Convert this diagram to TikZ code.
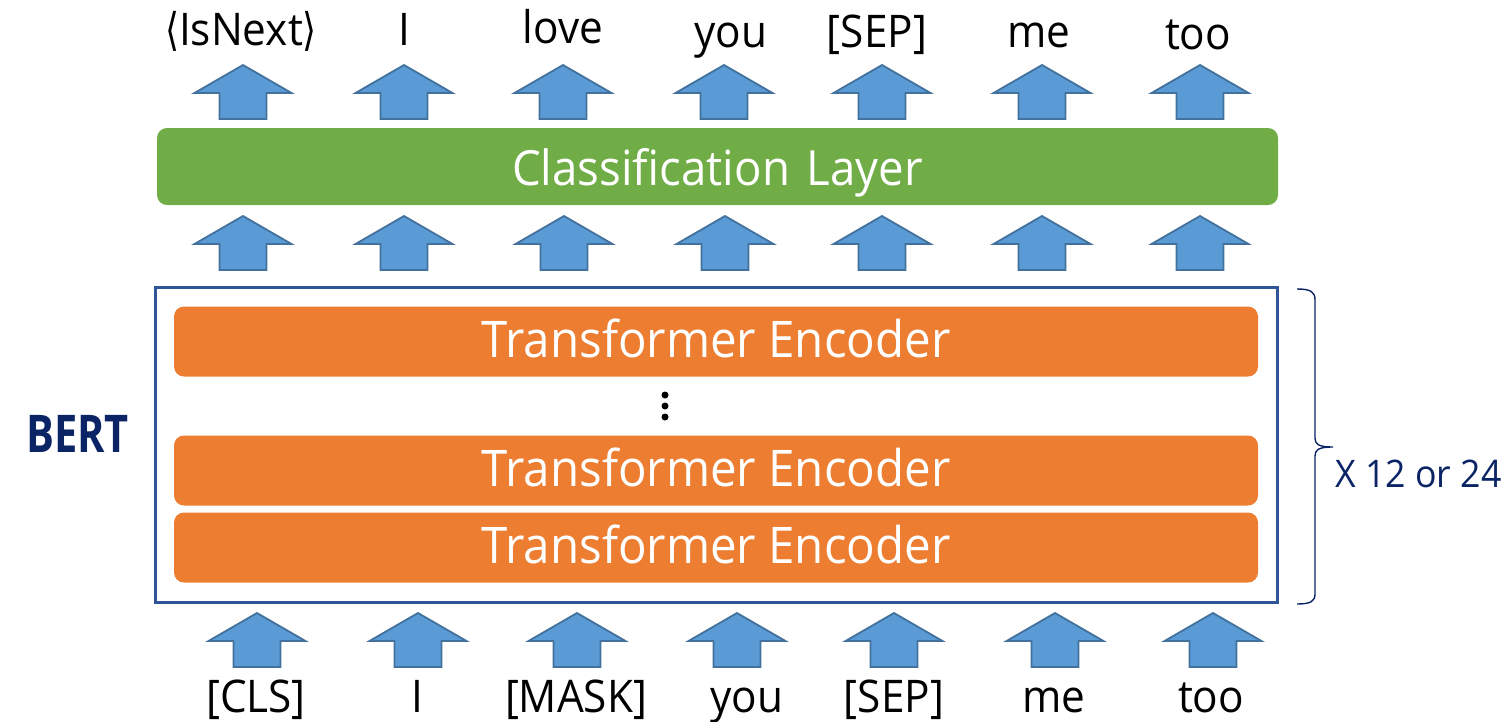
\documentclass[tikz,border=0pt]{standalone}
\usepackage{fontspec}
\usepackage{graphicx}
\setmainfont{Open Sans}[FakeStretch=0.94]
\newfontfamily\bracketfont{DejaVu Sans}[FakeStretch=0.8]
\definecolor{arrowfill}{HTML}{5B9BD5}
\definecolor{arrowline}{HTML}{41719C}
\definecolor{clsgreen}{HTML}{70AD47}
\definecolor{encorange}{HTML}{ED7D31}
\definecolor{frameblue}{HTML}{2F5597}
\definecolor{navy}{HTML}{0B2466}
\tikzset{
  blockarrow/.style={fill=arrowfill, draw=arrowline, line width=1.8pt, line join=miter},
  uparrow/.pic={\draw[blockarrow] (0,0) -- (48.5,28) -- (23.5,28) -- (23.5,54)
      -- (-23.5,54) -- (-23.5,28) -- (-48.5,28) -- cycle;},
  token/.style={anchor=base, inner sep=0pt, font=\fontsize{45}{54}\selectfont},
  encbox/.style={fill=encorange, rounded corners=10pt, inner sep=0pt,
      minimum width=1084pt, minimum height=70pt, text=white,
      text height=36pt, text depth=4pt, font=\fontsize{50.5}{60}\selectfont},
  greenbox/.style={fill=clsgreen, rounded corners=10pt, inner sep=0pt,
      minimum width=1121pt, minimum height=77pt, text=white,
      text height=37pt, text depth=0pt, font=\fontsize{48.5}{58}\selectfont},
  bertframe/.style={draw=frameblue, line width=3pt, inner sep=0pt,
      minimum width=1122pt, minimum height=315pt},
  dot/.style={circle, fill=black, inner sep=0pt, minimum size=7pt},
}
\begin{document}
\begin{tikzpicture}[x=1pt, y=-1pt]
  \useasboundingbox (0,0) rectangle (1511,721);

  % outputs of the classification layer
  \node[token] (o1) at (241,45) {{\bracketfont ⟨}IsNext{\bracketfont ⟩}};
  \node[token] (o2) at (404,45) {I};
  \node[token] (o3) at (563,43) {love};
  \node[token] (o4) at (731,47) {you};
  \node[token] (o5) at (877,47) {[SEP]};
  \node[token] (o6) at (1039,47) {me};
  \node[token] (o7) at (1198,49) {too};

  % arrows above the classification layer
  \foreach \x [count=\i] in {243,404,563,724,882,1042,1200}
    \pic (up\i) at (\x,65) {uparrow};

  % classification layer
  \node[greenbox] (cls) at (717.5,166.5) {Classification\hspace{0.1em} Layer};

  % arrows between encoder stack and classification layer
  \foreach \x [count=\i] in {243,404,564,725,882,1042,1200}
    \pic (mid\i) at (\x,216) {uparrow};

  % BERT encoder stack
  \node[bertframe] (bert) at (716,444.5) {};
  \node[encbox] (enc3) at (716,341.5) {Transformer Encoder};
  \node[dot] (d1) at (665,395) {};
  \node[dot] (d2) at (665,406) {};
  \node[dot] (d3) at (665,417) {};
  \node[encbox] (enc2) at (716,470.5) {Transformer Encoder};
  \node[encbox] (enc1) at (716,547.5) {Transformer Encoder};

  \node[anchor=base west, inner sep=0pt, text=navy,
        font=\fontsize{52}{60}\selectfont\bfseries] (bertlabel) at (26,452)
        {\scalebox{0.85}[1]{BERT}};

  % repetition brace
  \draw[navy, line width=1.4pt]
    (1297,289) .. controls (1311,289) and (1315,292) .. (1315,300)
    -- (1315,438) .. controls (1315,444) and (1318,447) .. (1333,447)
    .. controls (1318,447) and (1315,450) .. (1315,456)
    -- (1315,594) .. controls (1315,601) and (1311,604) .. (1297,604);
  \node[anchor=base west, inner sep=0pt, text=navy,
        font=\fontsize{38}{46}\selectfont] (reps) at (1335,487) {X 12 or 24};

  % input arrows
  \foreach \x [count=\i] in {257,418,577,737,894,1055,1213}
    \pic (in\i) at (\x,613) {uparrow};

  % input tokens
  \node[token] (i1) at (256,712) {[CLS]};
  \node[token] (i2) at (417,712) {I};
  \node[token] (i3) at (576,712) {[MASK]};
  \node[token] (i4) at (747,712) {you};
  \node[token] (i5) at (894,712) {[SEP]};
  \node[token] (i6) at (1054,712) {me};
  \node[token] (i7) at (1211,712) {too};
\end{tikzpicture}
\end{document}
